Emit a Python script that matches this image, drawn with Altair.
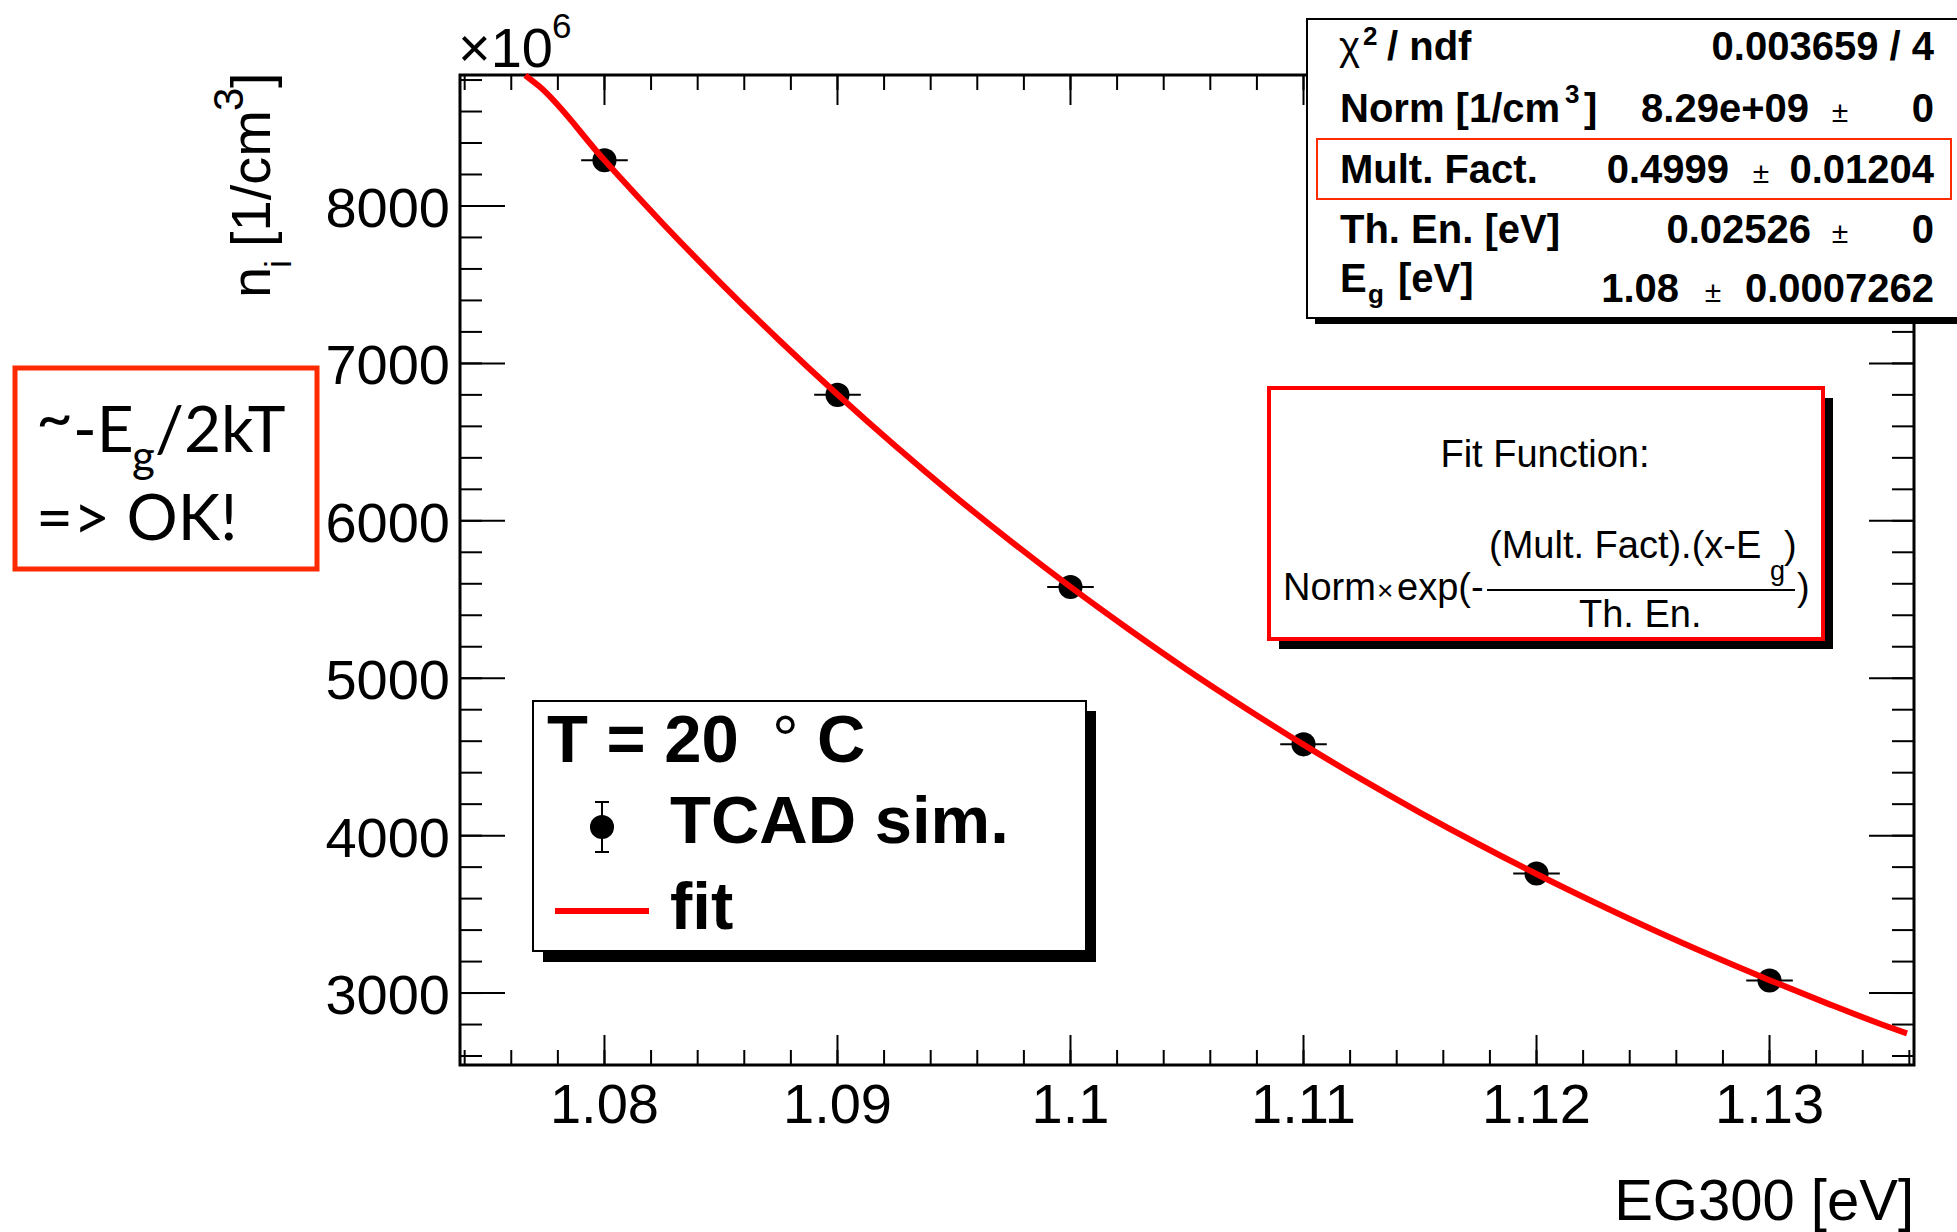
import altair as alt
import pandas as pd

# ---------------- data ----------------
eg = [1.08, 1.09, 1.10, 1.11, 1.12, 1.13]
ni = [8290, 6800, 5580, 4580, 3760, 3080]
ex = [0.001, 0.001, 0.001, 0.001, 0.001, 0.001]

fit_x = [1.0766, 1.0772, 1.0800, 1.0825, 1.0850, 1.0875, 1.0900, 1.0925, 1.0950,
         1.0975, 1.1000, 1.1025, 1.1050, 1.1075, 1.1100, 1.1125, 1.1150, 1.1175,
         1.1200, 1.1225, 1.1250, 1.1275, 1.1300, 1.1325, 1.1350, 1.1359]
fit_y = [8830, 8760, 8290, 7889, 7509, 7147, 6802, 6473, 6160,
         5863, 5580, 5311, 5054, 4811, 4578, 4357, 4147, 3947,
         3756, 3575, 3402, 3238, 3082, 2933, 2791, 2744]

x_major = [1.08, 1.09, 1.10, 1.11, 1.12, 1.13]
x_labels = ["1.08", "1.09", "1.1", "1.11", "1.12", "1.13"]
y_major = [3000, 4000, 5000, 6000, 7000, 8000]
y_labels = ["3000", "4000", "5000", "6000", "7000", "8000"]
x_minor = [round(1.074 + 0.002 * i, 3) for i in range(32)]
y_minor = [2600 + 200 * i for i in range(32)]

X_DOM = [1.0738, 1.1362]
Y_DOM = [2543, 8832]

# ---------------- layout ----------------
W, H = 1454, 990
PL, PT = 460, 75
FONT = "Liberation Sans"
RED = "#ff0000"
ORANGE = "#ff2a00"
PSIZE = 580

xs = alt.Scale(domain=X_DOM, nice=False, zero=False)
ys = alt.Scale(domain=Y_DOM, nice=False, zero=False)
one = pd.DataFrame({"k": [0]})


def txt(s, cx, cy, size, weight="normal", align="left", font=FONT, angle=0,
        color="black", baseline="alphabetic"):
    kw = dict(text=s, fontSize=size, fontWeight=weight, align=align, font=font,
              color=color, baseline=baseline)
    if angle:
        kw["angle"] = angle
    return alt.Chart(one).mark_text(**kw).encode(x=alt.value(cx - PL), y=alt.value(cy - PT))


def box(x1, y1, x2, y2, fill="white", stroke=None, sw=0, fo=1.0):
    kw = dict(fill=fill, fillOpacity=fo)
    if stroke:
        kw.update(stroke=stroke, strokeWidth=sw)
    return alt.Chart(one).mark_rect(**kw).encode(
        x=alt.value(x1 - PL), x2=alt.value(x2 - PL), y=alt.value(y1 - PT), y2=alt.value(y2 - PT))


def hline(x1, x2, y, color="black", sw=2):
    return alt.Chart(one).mark_rule(color=color, strokeWidth=sw).encode(
        x=alt.value(x1 - PL), x2=alt.value(x2 - PL), y=alt.value(y - PT))


def vline(x, y1, y2, color="black", sw=2):
    return alt.Chart(one).mark_rule(color=color, strokeWidth=sw).encode(
        x=alt.value(x - PL), y=alt.value(y1 - PT), y2=alt.value(y2 - PT))


def yticks(vals, x1, x2):
    return alt.Chart(pd.DataFrame({"v": vals})).mark_rule(color="black", strokeWidth=2).encode(
        y=alt.Y("v:Q", scale=ys, axis=None), x=alt.value(x1), x2=alt.value(x2))


def xticks(vals, y1, y2):
    return alt.Chart(pd.DataFrame({"v": vals})).mark_rule(color="black", strokeWidth=2).encode(
        x=alt.X("v:Q", scale=xs, axis=None), y=alt.value(y1), y2=alt.value(y2))


pts = pd.DataFrame({"eg": eg, "ni": ni,
                    "lo": [a - b for a, b in zip(eg, ex)],
                    "hi": [a + b for a, b in zip(eg, ex)]})
fit = pd.DataFrame({"x": fit_x, "y": fit_y})

ticks = [
    yticks(y_major, 0, 45), yticks(y_minor, 0, 22),
    yticks(y_major, W - 45, W), yticks(y_minor, W - 22, W),
    xticks(x_major, H - 30, H), xticks(x_minor, H - 15, H),
    xticks(x_major, 0, 30), xticks(x_minor, 0, 15),
]

xlab = alt.Chart(pd.DataFrame({"v": x_major, "lab": x_labels})).mark_text(
    fontSize=56, font=FONT, color="black", align="center", baseline="alphabetic").encode(
    x=alt.X("v:Q", scale=xs, axis=None), y=alt.value(H + 58), text="lab:N")

ylab = alt.Chart(pd.DataFrame({"v": y_major, "lab": y_labels})).mark_text(
    fontSize=56, font=FONT, color="black", align="right", baseline="alphabetic", dy=21).encode(
    y=alt.Y("v:Q", scale=ys, axis=None), x=alt.value(-10), text="lab:N")

errbars = alt.Chart(pts).mark_rule(color="black", strokeWidth=2).encode(
    x=alt.X("lo:Q", scale=xs, axis=None), x2="hi:Q",
    y=alt.Y("ni:Q", scale=ys, axis=None))

points = alt.Chart(pts).mark_circle(size=PSIZE, color="black", opacity=1).encode(
    x=alt.X("eg:Q", scale=xs, axis=None),
    y=alt.Y("ni:Q", scale=ys, axis=None))

fitline = alt.Chart(fit).mark_line(color=RED, strokeWidth=6, interpolate="monotone").encode(
    x=alt.X("x:Q", scale=xs, axis=None), y=alt.Y("y:Q", scale=ys, axis=None))

# legend
legend = [
    box(543, 711, 1096, 962, fill="black"),
    box(533, 701, 1086, 951, fill="white", stroke="black", sw=2),
    txt("T = 20", 547, 762, 67, weight="bold"),
    txt("°", 772, 762, 67),
    txt("C", 817, 762, 67, weight="bold"),
    vline(602, 802, 852),
    hline(595, 609, 802), hline(595, 609, 852),
    alt.Chart(one).mark_circle(size=PSIZE, color="black", opacity=1).encode(
        x=alt.value(602 - PL), y=alt.value(827 - PT)),
    txt("TCAD sim.", 670, 843, 67, weight="bold"),
    hline(555, 649, 911, color=RED, sw=6),
    txt("fit", 670, 929, 67, weight="bold"),
]

# fit function box
fitbox = [
    box(1279, 398, 1833, 649, fill="black"),
    box(1269, 388, 1823, 639, fill="white", stroke=RED, sw=4),
    txt("Fit Function:", 1545, 467, 38, align="center"),
    txt("Norm", 1283, 600, 38),
    txt("×", 1377, 600, 28),
    txt("exp(-", 1397, 600, 38),
    txt("(Mult. Fact).(x-E", 1489, 558, 38),
    txt("g", 1770, 580, 27),
    txt(")", 1784, 558, 38),
    hline(1487, 1795, 590, sw=2),
    txt("Th. En.", 1579, 627, 38),
    txt(")", 1797, 600, 38),
]

# stats box
stats = [
    box(1315, 29, 1965, 324, fill="black"),
    box(1307, 19, 1962, 318, fill="white", stroke="black", sw=2),
    box(1317, 139, 1951, 199, fill="white", stroke=ORANGE, sw=2, fo=0),
    txt("χ", 1339, 60, 40),
    txt("2", 1363, 45, 26, weight="bold"),
    txt("/ ndf", 1387, 60, 40, weight="bold"),
    txt("0.003659 / 4", 1934, 60, 40, weight="bold", align="right"),
    txt("Norm [1/cm", 1340, 122, 40, weight="bold"),
    txt("3", 1565, 103, 26, weight="bold"),
    txt("]", 1584, 122, 40, weight="bold"),
    txt("8.29e+09", 1809, 122, 40, weight="bold", align="right"),
    txt("±", 1840, 122, 30, align="center"),
    txt("0", 1934, 122, 40, weight="bold", align="right"),
    txt("Mult. Fact.", 1340, 183, 40, weight="bold"),
    txt("0.4999", 1729, 183, 40, weight="bold", align="right"),
    txt("±", 1761, 183, 30, align="center"),
    txt("0.01204", 1934, 183, 40, weight="bold", align="right"),
    txt("Th. En. [eV]", 1340, 243, 40, weight="bold"),
    txt("0.02526", 1811, 243, 40, weight="bold", align="right"),
    txt("±", 1840, 243, 30, align="center"),
    txt("0", 1934, 243, 40, weight="bold", align="right"),
    txt("E", 1340, 292, 40, weight="bold"),
    txt("g", 1368, 303, 26, weight="bold"),
    txt("[eV]", 1398, 292, 40, weight="bold"),
    txt("1.08", 1679, 302, 40, weight="bold", align="right"),
    txt("±", 1713, 302, 30, align="center"),
    txt("0.0007262", 1934, 302, 40, weight="bold", align="right"),
]

# outside texts
outside = [
    txt("×10", 458, 67, 56),
    txt("6", 552, 38, 35),
    txt("EG300 [eV]", 1914, 1220, 58, align="right"),
    txt("n", 270, 298, 56, angle=270),
    txt("i", 291, 268, 36, angle=270),
    txt("[1/cm", 270, 247, 56, angle=270),
    txt("3", 243, 111, 42, angle=270),
    txt("]", 270, 88, 56, angle=270),
    box(15, 368, 317, 569, fill="white", stroke=ORANGE, sw=5),
    txt("~", 36, 440, 64, font="Lato"),
    txt("-E", 73, 452, 64, font="Lato"),
    txt("g", 132, 472, 44, font="Lato"),
    txt("/2kT", 155, 452, 64, font="Lato"),
    txt("=> OK!", 36, 540, 64, font="Lato"),
]

chart = alt.layer(
    *ticks, xlab, ylab, errbars, points, fitline, *legend, *fitbox, *stats, *outside
).properties(
    width=W, height=H,
    padding={"left": PL, "top": PT, "right": 1957 - PL - W, "bottom": 1232 - PT - H},
    autosize=alt.AutoSizeParams(type="none"),
    background="white",
).configure_view(stroke="black", strokeWidth=3)

chart.save("out.html", embed_options={"renderer": "svg", "actions": False})
